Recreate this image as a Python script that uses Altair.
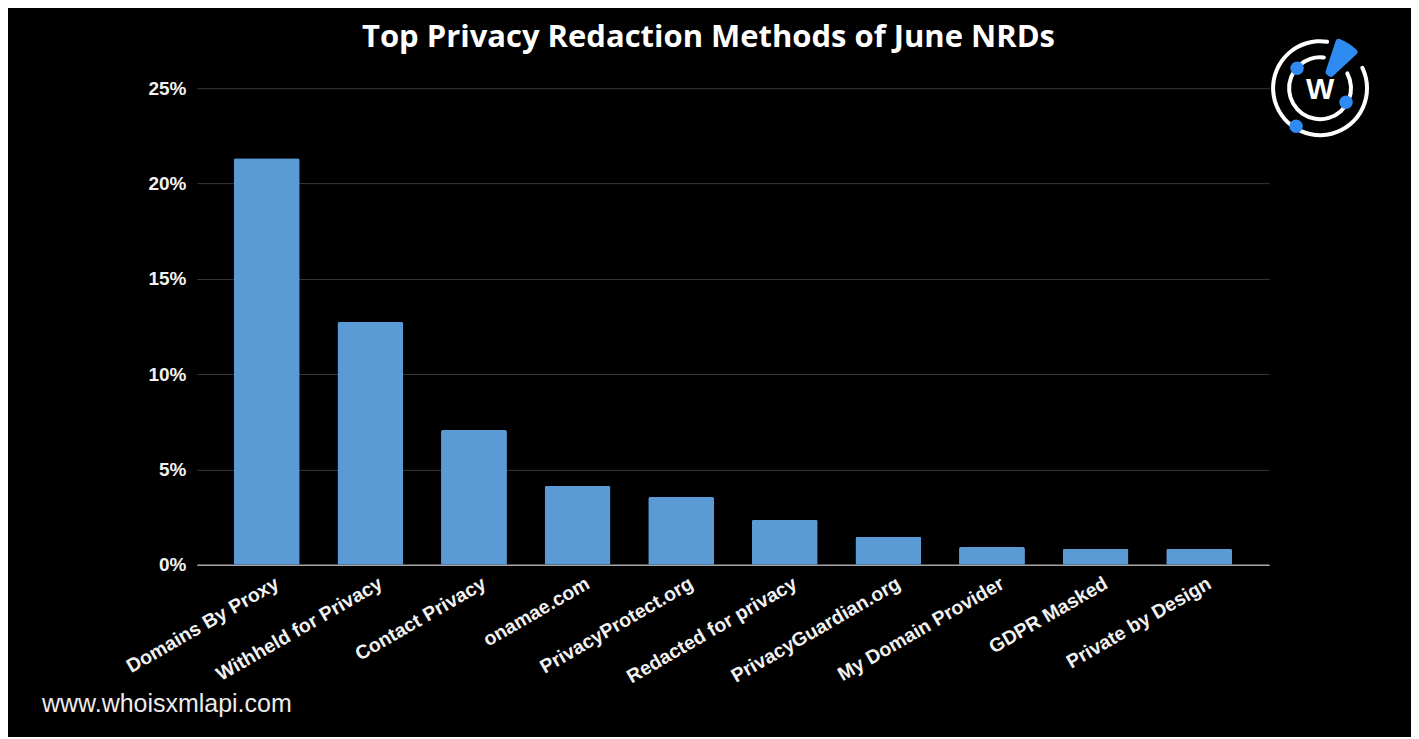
import altair as alt
import pandas as pd

categories = [
    "Domains By Proxy", "Withheld for Privacy", "Contact Privacy", "onamae.com",
    "PrivacyProtect.org", "Redacted for privacy", "PrivacyGuardian.org",
    "My Domain Provider", "GDPR Masked", "Private by Design",
]
shares = [21.33, 12.74, 7.07, 4.14, 3.56, 2.36, 1.47, 0.94, 0.84, 0.84]
y_ticks = [0, 5, 10, 15, 20, 25]
title_text = "Top Privacy Redaction Methods of June NRDs"
footer_text = "www.whoisxmlapi.com"

df = pd.DataFrame({"method": categories, "share": [v / 100 for v in shares]})
one = pd.DataFrame({"k": [0]})

W, H = 1073, 477
LOGO_X, LOGO_Y = 1124, 0
BLUE = "#2e8bf2"

bars = alt.Chart(df).mark_bar(
    color="#5b9bd5", cornerRadiusTopLeft=2, cornerRadiusTopRight=2
).encode(
    x=alt.X(
        "method:N", sort=None, title=None,
        scale=alt.Scale(paddingInner=0.364, paddingOuter=0.357),
        axis=alt.Axis(
            labelAngle=-30, labelFont="Liberation Sans", labelFontWeight="bold",
            labelFontSize=19.5, labelColor="#f2f2f2", labelPadding=9, labelOffset=6,
            labelLimit=400, labelOverlap=False,
            ticks=False, domainColor="#a6a6a6", domainWidth=1.5, grid=False,
        ),
    ),
    y=alt.Y(
        "share:Q", title=None,
        scale=alt.Scale(domain=[0, 0.25], nice=False),
        axis=alt.Axis(
            values=[t / 100 for t in y_ticks], format=".0%", ticks=False, domain=False,
            gridColor="#383838", gridWidth=1, labelPadding=11,
            labelFont="Liberation Sans", labelFontWeight="bold", labelFontSize=19,
            labelColor="#f2f2f2",
        ),
    ),
)

title = alt.Chart(one).mark_text(
    font="Open Sans", fontWeight="bold", fontSize=31, color="white",
    align="center", baseline="alphabetic",
).encode(x=alt.value(512), y=alt.value(-41), text=alt.value(title_text))

footer = alt.Chart(one).mark_text(
    font="Liberation Sans", fontSize=25, color="#ececec",
    align="left", baseline="alphabetic",
).encode(x=alt.value(-155), y=alt.value(624), text=alt.value(footer_text))

ring_outer = alt.Chart(one).mark_arc(
    radius=49, radius2=45, theta=1.08, theta2=6.475, color="white", cornerRadius=2
).encode(x=alt.value(LOGO_X), y=alt.value(LOGO_Y))
ring_inner = alt.Chart(one).mark_arc(
    radius=33, radius2=29, theta=1.01, theta2=6.47, color="white", cornerRadius=2
).encode(x=alt.value(LOGO_X), y=alt.value(LOGO_Y))
wedge = alt.Chart(one).mark_arc(
    radius=53, radius2=15, theta=0.32, theta2=0.82, color=BLUE, cornerRadius=3
).encode(x=alt.value(LOGO_X), y=alt.value(LOGO_Y))
dot1 = alt.Chart(one).mark_circle(size=180, color=BLUE, opacity=1).encode(
    x=alt.value(LOGO_X - 23), y=alt.value(LOGO_Y - 20))
dot2 = alt.Chart(one).mark_circle(size=180, color=BLUE, opacity=1).encode(
    x=alt.value(LOGO_X + 26), y=alt.value(LOGO_Y + 14))
dot3 = alt.Chart(one).mark_circle(size=180, color=BLUE, opacity=1).encode(
    x=alt.value(LOGO_X - 24), y=alt.value(LOGO_Y + 38))
wtext = alt.Chart(one).mark_text(
    font="Liberation Sans", fontWeight="bold", fontSize=30, color="white",
    align="center", baseline="middle",
).encode(x=alt.value(LOGO_X), y=alt.value(LOGO_Y + 2), text=alt.value("W"))

chart = alt.layer(
    bars, title, footer, ring_outer, ring_inner, wedge, dot1, dot2, dot3, wtext
).properties(
    width=W, height=H,
    autosize=alt.AutoSizeParams(type="none"),
    padding={"left": 189, "top": 80, "right": 142, "bottom": 172},
    background="black",
).configure_view(stroke=None)

chart.save("out.html", embed_options={"renderer": "svg", "actions": False})
